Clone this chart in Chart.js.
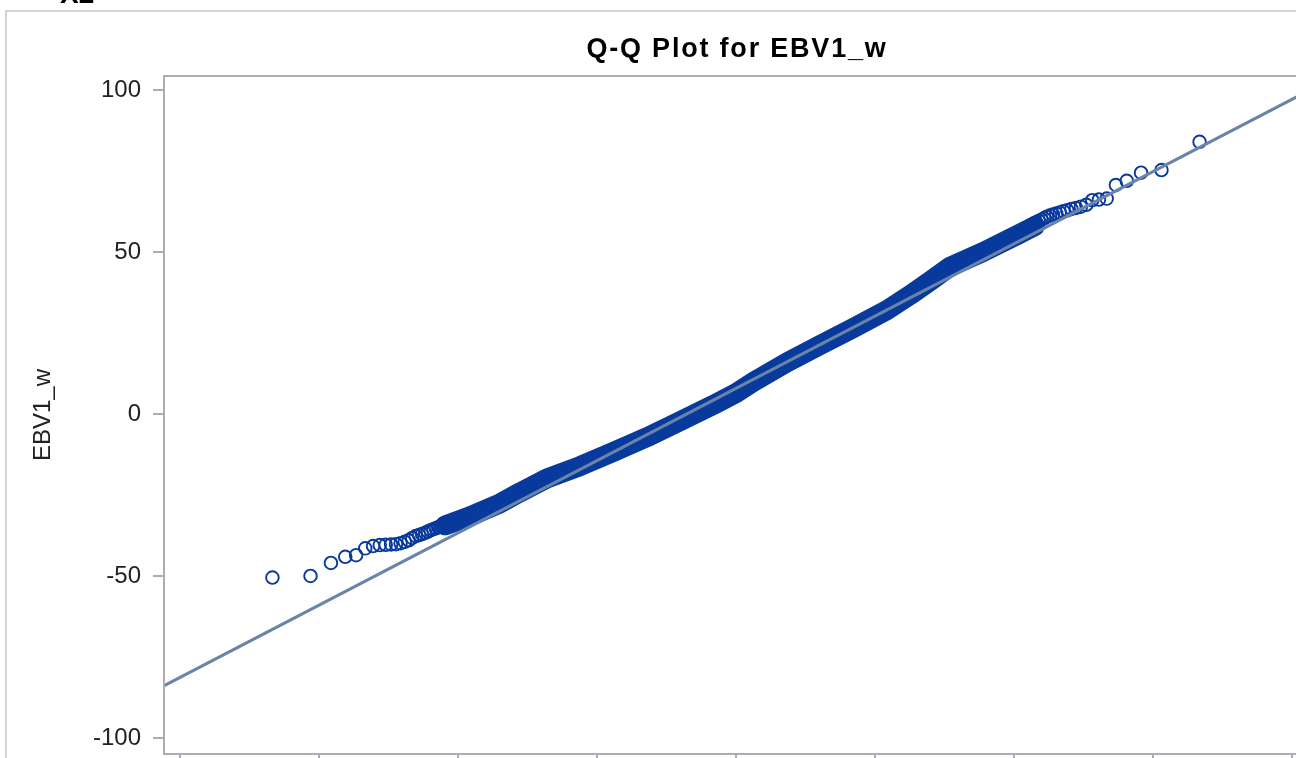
<!DOCTYPE html>
<html>
<head>
<meta charset="utf-8">
<script src="https://cdn.jsdelivr.net/npm/chart.js@4.4.1/dist/chart.umd.min.js"></script>
<style>
  html, body { margin: 0; padding: 0; background: #fff; overflow: hidden; }
  #wrap { width: 1296px; height: 758px; overflow: hidden; position: relative; }
  canvas { display: block; }
</style>
</head>
<body>
<div id="wrap"><canvas id="qq" width="1330" height="800"></canvas></div>
<script>
// normal quantiles (x) and EBV1_w values (y)
// lower tail, single circles
const lowQ = [-3.335, -3.061, -2.914, -2.811, -2.733, -2.667, -2.611, -2.563, -2.520, -2.481,
              -2.446, -2.413, -2.383, -2.355, -2.329, -2.304, -2.280, -2.259, -2.236, -2.216,
              -2.197, -2.178, -2.160, -2.142, -2.126, -2.110, -2.094, -2.079, -2.065, -2.050];
const lowV = [-50.4, -49.9, -45.9, -44.0, -43.5, -41.4, -40.7, -40.4, -40.3, -40.2,
              -40.1, -39.8, -39.4, -38.9, -38.2, -37.6, -37.3, -37.0, -36.6, -36.2,
              -35.8, -35.5, -35.2, -34.9, -34.6, -34.3, -34.0, -33.7, -33.4, -33.1];
// upper tail, single circles
const highQ = [3.335, 3.061, 2.914, 2.811, 2.733, 2.667, 2.611, 2.563, 2.520, 2.481,
               2.446, 2.413, 2.383, 2.355, 2.329, 2.304, 2.280, 2.259, 2.236, 2.216,
               2.197, 2.178, 2.160, 2.142, 2.126, 2.110, 2.094, 2.079, 2.065, 2.050];
const highV = [84.0, 75.3, 74.5, 72.0, 70.7, 66.5, 66.2, 66.0, 64.6, 64.0,
               63.6, 63.3, 62.9, 62.6, 62.2, 61.9, 61.6, 61.3, 60.9, 60.4,
               60.0, 59.6, 59.2, 58.8, 58.4, 58.0, 57.6, 57.2, 56.8, 56.4];
// dense middle of the plot, where circles merge into one band
const bodyQ = [-2.092, -1.912, -1.697, -1.553, -1.359, -1.121, -0.884, -0.640, -0.403, -0.165, 0.000,
               0.122, 0.367, 0.604, 0.841, 1.086, 1.251, 1.395, 1.538, 1.776, 2.020, 2.150];
const bodyV = [-34.3, -31.5, -27.5, -24.1, -19.8, -16.0, -11.7, -7.1, -2.2, 2.8, 6.5,
               9.9, 16.0, 21.3, 26.5, 32.1, 36.7, 41.0, 45.4, 50.0, 55.2, 58.0];
// reference line end points
const refQ = [-4.12, 4.12];
const refV = [-83.9, 99.8];

const blue = '#08399c';
const font = '"Liberation Sans", Arial, sans-serif';

function pts(xs, ys) {
    return xs.map((x, i) => ({ x: x, y: ys[i] }));
}

// title, outer frame and plot frame
const decor = {
    id: 'decor',
    beforeDraw(chart) {
        const ctx = chart.ctx;
        const a = chart.chartArea;
        ctx.save();
        ctx.fillStyle = '#fff';
        ctx.fillRect(0, 0, chart.width, chart.height);
        ctx.strokeStyle = '#d4d4d4';
        ctx.lineWidth = 2;
        ctx.strokeRect(6, 11, chart.width + 20, chart.height + 20);
        ctx.fillStyle = '#000';
        ctx.font = 'bold 28px ' + font;
        ctx.textBaseline = 'alphabetic';
        ctx.fillText('X2', 60, 3);
        ctx.font = 'bold 27px ' + font;
        ctx.textAlign = 'center';
        if ('letterSpacing' in ctx) ctx.letterSpacing = '1.8px';
        ctx.fillText('Q-Q Plot for EBV1_w', (a.left + a.right) / 2 + 1, 57);
        ctx.restore();
    },
    afterDatasetsDraw(chart) {
        const ctx = chart.ctx;
        const a = chart.chartArea;
        ctx.save();
        ctx.strokeStyle = '#a9aeb4';
        ctx.lineWidth = 2;
        ctx.strokeRect(a.left, a.top, a.right - a.left, a.bottom - a.top);
        ctx.restore();
    }
};

Chart.defaults.font.family = font;

new Chart(document.getElementById('qq').getContext('2d'), {
    type: 'scatter',
    data: {
        datasets: [
            {
                label: 'Reference',
                data: pts(refQ, refV),
                showLine: true,
                borderColor: '#6a84a8',
                borderWidth: 3,
                pointRadius: 0
            },
            {
                label: 'Lower tail',
                data: pts(lowQ, lowV),
                borderColor: blue,
                backgroundColor: 'rgba(0,0,0,0)',
                borderWidth: 1.9,
                pointRadius: 6.3
            },
            {
                label: 'Upper tail',
                data: pts(highQ, highV),
                borderColor: blue,
                backgroundColor: 'rgba(0,0,0,0)',
                borderWidth: 1.9,
                pointRadius: 6.3
            },
            {
                label: 'Body',
                data: pts(bodyQ, bodyV),
                showLine: true,
                borderColor: blue,
                borderWidth: 20,
                borderCapStyle: 'round',
                borderJoinStyle: 'round',
                pointRadius: 0
            }
        ]
    },
    options: {
        responsive: false,
        animation: false,
        events: [],
        layout: { padding: { top: 76, left: 0, right: 22, bottom: 0 } },
        plugins: {
            legend: { display: false },
            tooltip: { enabled: false },
            title: { display: false }
        },
        scales: {
            x: {
                type: 'linear',
                min: -4.115,
                max: 4.115,
                afterFit: (s) => { s.height = 46; },
                border: { display: false },
                grid: { drawOnChartArea: false, drawTicks: true, tickLength: 10, color: '#a9aeb4', lineWidth: 2 },
                ticks: { stepSize: 1, includeBounds: false, color: '#222', font: { size: 24 }, padding: 6 }
            },
            y: {
                type: 'linear',
                min: -104.84,
                max: 104.32,
                afterFit: (s) => { s.width = 164; },
                border: { display: false },
                grid: { drawOnChartArea: false, drawTicks: true, tickLength: 11, color: '#a9aeb4', lineWidth: 2 },
                ticks: { stepSize: 50, includeBounds: false, color: '#222', font: { size: 24 }, padding: 12 },
                title: { display: true, text: 'EBV1_w', color: '#222', font: { size: 24 }, padding: { top: 29, bottom: 0 } }
            }
        }
    },
    plugins: [decor]
});
</script>
</body>
</html>
